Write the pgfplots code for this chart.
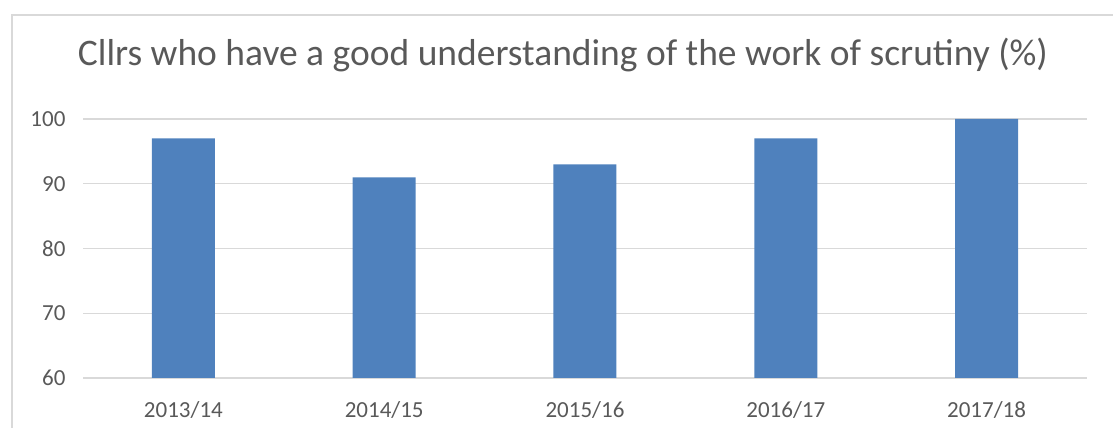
\documentclass[border=0pt]{standalone}
\usepackage{fontspec}
\setmainfont{Carlito}
\usepackage{pgfplots}
\pgfplotsset{compat=1.18}
\definecolor{barblue}{HTML}{4F81BD}
\definecolor{txtgray}{HTML}{595959}
\definecolor{gridgray}{HTML}{D9D9D9}
\begin{document}
\begin{tikzpicture}
\useasboundingbox (0,0) rectangle (1113pt,428pt);
% chart frame (cut off at right and bottom in the reference)
\draw[gridgray,line width=1.5pt] (12pt,-10pt) -- (12pt,413pt) -- (1130pt,413pt);
\node[anchor=base,text=txtgray,font=\fontsize{37.5}{37.5}\selectfont] at (563pt,362pt)
 {Cllrs who have a good understanding of the work of scrutiny (\%)};
\begin{axis}[
 scale only axis,width=1004pt,height=259pt,
 at={(83pt,50pt)},anchor=south west,
 ymin=60,ymax=100,ytick={60,70,80,90,100},
 xmin=-0.5,xmax=4.5,xtick=data,
 xticklabels={2013/14,2014/15,2015/16,2016/17,2017/18},
 axis line style={draw=none},
 major tick style={draw=none},
 ymajorgrids,major grid style={draw=gridgray,line width=1.3pt},
 /pgf/number format/assume math mode=true,
 tick label style={font=\fontsize{23}{23}\selectfont,text=txtgray},
 yticklabel style={xshift=-14pt},
 xticklabel style={yshift=-16pt},
 ybar,bar width=63pt,
 ]
\addplot[fill=barblue,draw=none] coordinates {(0,97) (1,91) (2,93) (3,97) (4,100)};
\end{axis}
\end{tikzpicture}
\end{document}
